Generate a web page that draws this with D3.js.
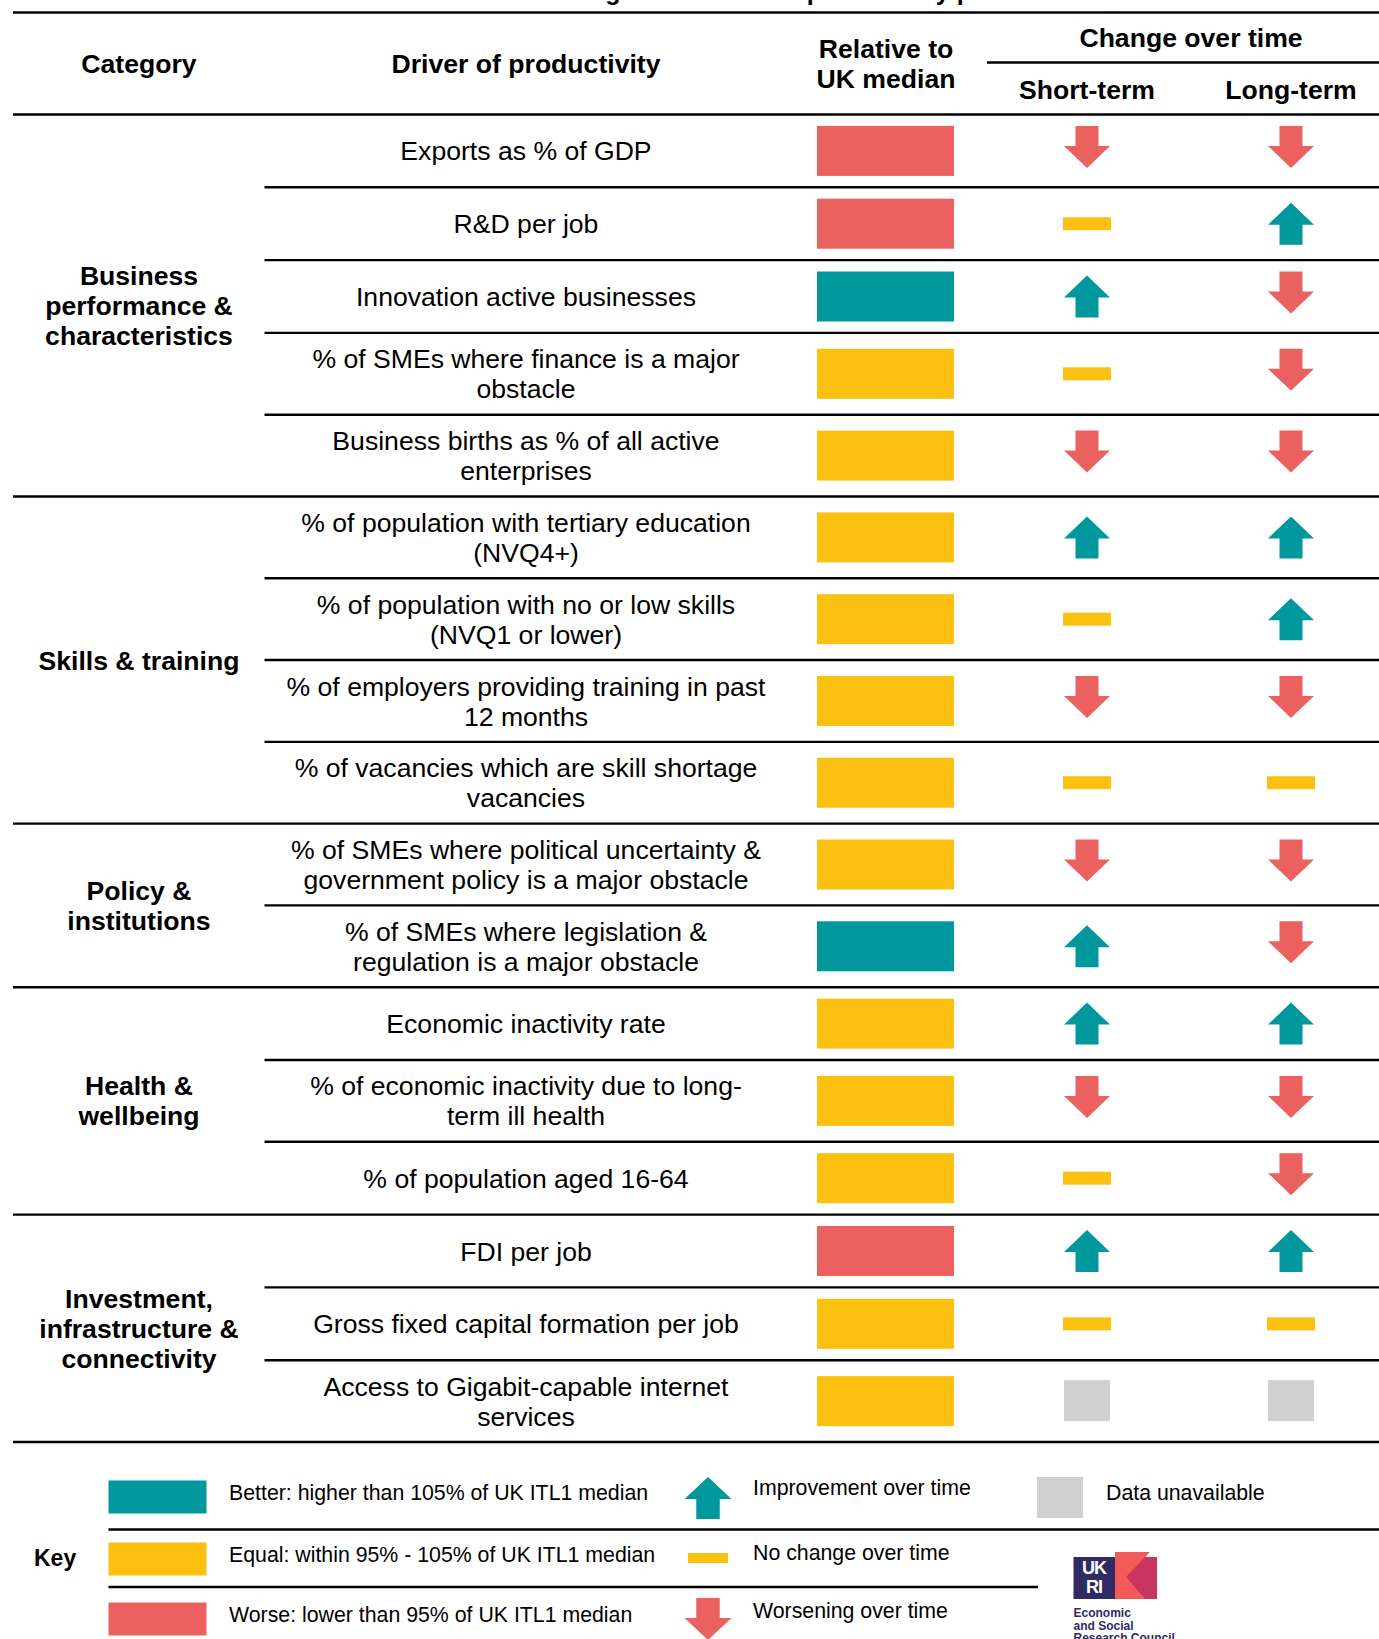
<!DOCTYPE html>
<html>
<head>
<meta charset="utf-8">
<script src="https://cdn.jsdelivr.net/npm/d3@7"></script>
<style>
  html, body { margin: 0; padding: 0; background: #fff; }
  svg { display: block; font-family: "Liberation Sans", Arial, sans-serif; }
</style>
</head>
<body>
<svg id="chart" width="1379" height="1639"></svg>
<script>
// ---- data ----
var categoryLines = [
    ["Business", "performance &", "characteristics"],
    ["Skills & training"],
    ["Policy &", "institutions"],
    ["Health &", "wellbeing"],
    ["Investment,", "infrastructure &", "connectivity"]
];
var categorySizes = [5, 4, 2, 3, 3];

var drivers = [
    ["Exports as % of GDP"],
    ["R&D per job"],
    ["Innovation active businesses"],
    ["% of SMEs where finance is a major", "obstacle"],
    ["Business births as % of all active", "enterprises"],
    ["% of population with tertiary education", "(NVQ4+)"],
    ["% of population with no or low skills", "(NVQ1 or lower)"],
    ["% of employers providing training in past", "12 months"],
    ["% of vacancies which are skill shortage", "vacancies"],
    ["% of SMEs where political uncertainty &", "government policy is a major obstacle"],
    ["% of SMEs where legislation &", "regulation is a major obstacle"],
    ["Economic inactivity rate"],
    ["% of economic inactivity due to long-", "term ill health"],
    ["% of population aged 16-64"],
    ["FDI per job"],
    ["Gross fixed capital formation per job"],
    ["Access to Gigabit-capable internet", "services"]
];
var relative = ["worse", "worse", "better", "equal", "equal",
                "equal", "equal", "equal", "equal",
                "equal", "better",
                "equal", "equal", "equal",
                "worse", "equal", "equal"];
var shortTerm = ["down", "flat", "up", "flat", "down",
                 "up", "flat", "down", "flat",
                 "down", "up",
                 "up", "down", "flat",
                 "up", "flat", "na"];
var longTerm = ["down", "up", "down", "down", "down",
                "up", "up", "down", "flat",
                "down", "down",
                "up", "down", "down",
                "up", "flat", "na"];

var keyLevels = ["better", "equal", "worse"];
var keyLevelLabels = ["Better: higher than 105% of UK ITL1 median",
                      "Equal: within 95% - 105% of UK ITL1 median",
                      "Worse: lower than 95% of UK ITL1 median"];
var keyTrends = ["up", "flat", "down"];
var keyTrendLabels = ["Improvement over time", "No change over time", "Worsening over time"];

// ---- setup ----
var svg = d3.select("#chart");
var W = 1379;
var fontSize = 26.6;
var lineH = 30;
var keyFont = 21.3;

var levelColor = d3.scaleOrdinal()
    .domain(["better", "equal", "worse"])
    .range(["#00989d", "#fcc010", "#eb615f"]);
var trendColor = d3.scaleOrdinal()
    .domain(["up", "flat", "down", "na"])
    .range(["#00989d", "#fcc010", "#eb615f", "#d0d0d0"]);

// row heights depend on number of text lines
var units = drivers.map(function(d){ return d.length > 1 ? 82 : 73; });
var starts = [0].concat(Array.from(d3.cumsum(units)));
var y = d3.scaleLinear()
    .domain([0, starts[starts.length - 1]])
    .range([114.5, 1442]);

var changeX = d3.scalePoint()
    .domain(["short", "long"])
    .range([1087, 1291]);

// arrow shapes centred on 0,0
function arrowPath(dir, w, h) {
    var hw = w / 2, sw = w / 4, hh = h / 2, neck = 1;
    var p = [[0, -hh], [hw, neck], [sw, neck], [sw, hh], [-sw, hh], [-sw, neck], [-hw, neck]];
    if (dir == "down") p = p.map(function(q){ return [q[0], -q[1]]; });
    return "M" + p.map(function(q){ return q.join(","); }).join("L") + "Z";
}

function drawTrend(g, dir, cx, cy, big) {
    if (dir == "up" || dir == "down") {
        g.append("path")
            .attr("d", arrowPath(dir, big ? 46 : 47, 42))
            .attr("transform", "translate(" + cx + "," + (dir == "down" ? cy - 4 : cy) + ")")
            .attr("fill", trendColor(dir));
    } else if (dir == "flat") {
        var w = big ? 48 : 40, h = big ? 13 : 10;
        g.append("rect")
            .attr("x", cx - w / 2).attr("y", cy - h / 2)
            .attr("width", w).attr("height", h)
            .attr("fill", trendColor(dir));
    } else {
        g.append("rect")
            .attr("x", cx - 23).attr("y", cy - 21)
            .attr("width", 46).attr("height", 41)
            .attr("fill", trendColor(dir));
    }
}

function multiText(g, lines, x, cy, opts) {
    var t = g.append("text")
        .attr("x", x)
        .attr("text-anchor", opts.anchor || "middle")
        .attr("font-size", opts.size)
        .attr("font-weight", opts.bold ? "bold" : "normal")
        .attr("fill", opts.color || "#000");
    var top = cy - (lines.length - 1) * opts.lh / 2 + opts.size * 0.36;
    lines.forEach(function(l, i){
        t.append("tspan").attr("x", x).attr("y", top + i * opts.lh).text(l);
    });
    return t;
}

// ---- cut-off title ----
svg.append("text")
    .attr("x", 458).attr("y", 0)
    .attr("font-size", 25).attr("font-weight", "bold")
    .text("North East against drivers of productivity performance");

// ---- header ----
var head = svg.append("g");
multiText(head, ["Category"], 139, 63, {size: fontSize, lh: lineH, bold: true});
multiText(head, ["Driver of productivity"], 526, 63, {size: fontSize, lh: lineH, bold: true});
multiText(head, ["Relative to", "UK median"], 886, 63.5, {size: fontSize, lh: lineH, bold: true});
multiText(head, ["Change over time"], 1191, 37, {size: fontSize, lh: lineH, bold: true});
multiText(head, ["Short-term"], changeX("short"), 89.5, {size: fontSize, lh: lineH, bold: true});
multiText(head, ["Long-term"], changeX("long"), 89.5, {size: fontSize, lh: lineH, bold: true});

var lines = svg.append("g").attr("stroke", "#000").attr("stroke-width", 2.4);
lines.append("line").attr("x1", 13).attr("x2", W).attr("y1", 12.5).attr("y2", 12.5);
lines.append("line").attr("x1", 987).attr("x2", W).attr("y1", 62.5).attr("y2", 62.5);
lines.append("line").attr("x1", 13).attr("x2", W).attr("y1", 114.5).attr("y2", 114.5);

// ---- rows ----
var groupEnds = Array.from(d3.cumsum(categorySizes));
var rows = svg.append("g");
drivers.forEach(function(d, i){
    var top = y(starts[i]), bot = y(starts[i + 1]), cy = (top + bot) / 2;
    multiText(rows, d, 526, cy, {size: fontSize, lh: lineH});
    rows.append("rect")
        .attr("x", 817).attr("y", cy - 25)
        .attr("width", 137).attr("height", 50)
        .attr("fill", levelColor(relative[i]));
    drawTrend(rows, shortTerm[i], changeX("short"), cy, true);
    drawTrend(rows, longTerm[i], changeX("long"), cy, true);
    var isGroupEnd = groupEnds.indexOf(i + 1) >= 0;
    lines.append("line")
        .attr("x1", isGroupEnd ? 13 : 264.5).attr("x2", W)
        .attr("y1", bot).attr("y2", bot);
});

// category labels centred on their group
var gStart = 0;
categoryLines.forEach(function(c, k){
    var top = y(starts[gStart]), bot = y(starts[gStart + categorySizes[k]]);
    multiText(rows, c, 139, (top + bot) / 2, {size: fontSize, lh: lineH, bold: true});
    gStart += categorySizes[k];
});

// ---- key ----
var key = svg.append("g");
var keyY = [1497, 1559, 1619];
multiText(key, ["Key"], 34, 1558, {size: 23, lh: 26, bold: true, anchor: "start"});
keyLevels.forEach(function(l, i){
    key.append("rect")
        .attr("x", 108.5).attr("y", keyY[i] - 16.5)
        .attr("width", 98).attr("height", 33)
        .attr("fill", levelColor(l));
    key.append("text")
        .attr("x", 229).attr("y", keyY[i] - 5 + 7.5)
        .attr("font-size", keyFont)
        .text(keyLevelLabels[i]);
});
var trendTextY = [1495, 1560, 1617.5];
keyTrends.forEach(function(t, i){
    drawTrend(key, t, 708, t == "down" ? keyY[i] + 4 : keyY[i] + (t == "flat" ? -1 : 1), false);
    key.append("text")
        .attr("x", 753).attr("y", trendTextY[i])
        .attr("font-size", keyFont)
        .text(keyTrendLabels[i]);
});
drawTrend(key, "na", 1060, 1498, false);
key.append("text").attr("x", 1106).attr("y", 1499.5).attr("font-size", keyFont).text("Data unavailable");

key.append("line").attr("x1", 108.5).attr("x2", W).attr("y1", 1529.5).attr("y2", 1529.5)
    .attr("stroke", "#000").attr("stroke-width", 2.4);
key.append("line").attr("x1", 108.5).attr("x2", 1038).attr("y1", 1587).attr("y2", 1587)
    .attr("stroke", "#000").attr("stroke-width", 2.4);

// ---- UKRI / ESRC logo ----
var logo = svg.append("g");
logo.append("rect").attr("x", 1073.5).attr("y", 1557).attr("width", 41.5).attr("height", 42).attr("fill", "#2e2c62");
logo.append("rect").attr("x", 1115).attr("y", 1557).attr("width", 42).attr("height", 42).attr("fill", "#c8365f");
logo.append("path")
    .attr("d", "M1115,1552L1150,1552L1126,1577L1145,1599L1115,1599Z")
    .attr("fill", "#f45b58");
multiText(logo, ["UK", "RI"], 1094, 1577.5, {size: 18, lh: 19, bold: true, color: "#fff"})
    .attr("letter-spacing", -1);
multiText(logo, ["Economic", "and Social", "Research Council"], 1073.5, 1625.5, {size: 12, lh: 12.5, bold: true, anchor: "start", color: "#2e2c62"});
</script>
</body>
</html>
